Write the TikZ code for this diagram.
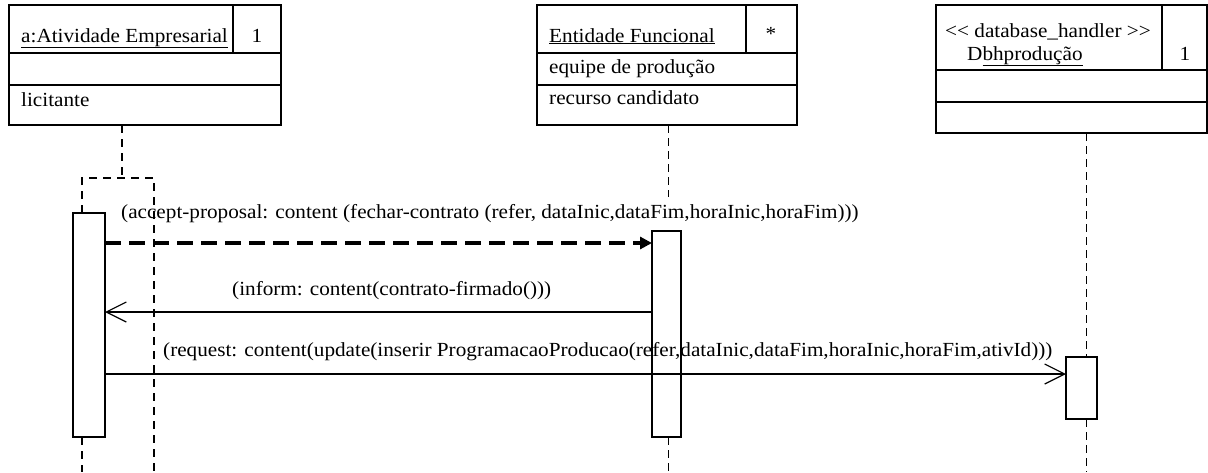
\documentclass[tikz,border=0pt]{standalone}
\usepackage{fontspec}
\setmainfont{Liberation Serif}[FakeStretch=1.06]
\usetikzlibrary{arrows.meta}
\begin{document}
\begin{tikzpicture}[x=1pt,y=-1pt,
  font=\fontsize{20}{23}\selectfont,
  box/.style={draw, line width=1.2pt, inner sep=0pt, outer sep=0pt, anchor=north west},
  act/.style={draw, fill=white, line width=1.2pt, inner sep=0pt, outer sep=0pt, anchor=north west},
  life/.style={line width=1pt, dash pattern=on 8pt off 5pt},
  lifeB/.style={line width=2.2pt, dash pattern=on 8pt off 6pt},
  txt/.style={anchor=base west, inner sep=0pt},
  msgdash/.style={line width=4pt, dash pattern=on 16pt off 8pt, -{Triangle[length=12pt,width=12pt]}},
  msg/.style={line width=1.2pt, -{Straight Barb[length=20pt,width=20pt,line width=1.2pt]}}]
\useasboundingbox (0,0) rectangle (1208,472);

% object 1
\node[box, minimum width=272pt, minimum height=120pt] (o1) at (9,5) {};
\draw[line width=1.2pt] (9,53) -- (281,53) (9,85) -- (281,85) (233,5) -- (233,53);
\node[txt] (o1n) at (21,42) {\underline{a:Atividade Empresarial}};
\node[txt, anchor=base] (o1m) at (257,42) {1};
\node[txt] (o1a) at (21,106) {licitante};

% object 2
\node[box, minimum width=260pt, minimum height=120pt] (o2) at (537,5) {};
\draw[line width=1.2pt] (537,53) -- (797,53) (537,85) -- (797,85) (746,5) -- (746,53);
\node[txt] (o2n) at (549,42) {\underline{Entidade Funcional}};
\node[txt, anchor=base] (o2m) at (771,40) {*};
\node[txt] (o2a) at (549,73) {equipe de produção};
\node[txt] (o2b) at (549,104) {recurso candidato};

% object 3
\node[box, minimum width=271pt, minimum height=128pt] (o3) at (936,5) {};
\draw[line width=1.2pt] (936,70) -- (1207,70) (936,102) -- (1207,102) (1162,5) -- (1162,70);
\node[txt] (o3s) at (945,37) {{<}\kern0pt{<} database\_handler {>}\kern0pt{>}};
\node[txt] (o3n) at (967,60) {D\underline{bhprodução}};
\node[txt, anchor=base] (o3m) at (1185,60) {1};

% lifelines
\coordinate (l1top) at (122,178);
\draw[lifeB] (122,125) -- (l1top);
\draw[lifeB] (82,213) -- (82,178) -- (154,178) -- (154,472);
\draw[life] (668,125) -- (668,197);
\draw[life] (1086,133) -- (1086,357);

% activations
\node[act, minimum width=32pt, minimum height=224pt] (a1) at (73,213) {};
\node[act, minimum width=29pt, minimum height=206pt] (a2) at (652,231) {};
\node[act, minimum width=31pt, minimum height=62pt] (a3) at (1066,357) {};

\draw[lifeB] (82,437) -- (82,472);
\draw[life] (668,437) -- (668,472);
\draw[life] (1086,419) -- (1086,472);

% messages
\node[txt] (m1) at (121,218) {(accept-proposal: content (fechar-contrato (refer, dataInic,dataFim,horaInic,horaFim)))};
\draw[msgdash] (a1.east |- 0,243) -- (a2.west |- 0,243);

\node[txt] (m2) at (232,295) {(inform: content(contrato-firmado()))};
\draw[msg] (a2.west |- 0,312) -- (a1.east |- 0,312);

\node[txt] (m3) at (163,356) {(request: content(update(inserir ProgramacaoProducao(refer,dataInic,dataFim,horaInic,horaFim,ativId)))};
\draw[msg] (a1.east |- 0,374) -- (a3.west |- 0,374);
\end{tikzpicture}
\end{document}
